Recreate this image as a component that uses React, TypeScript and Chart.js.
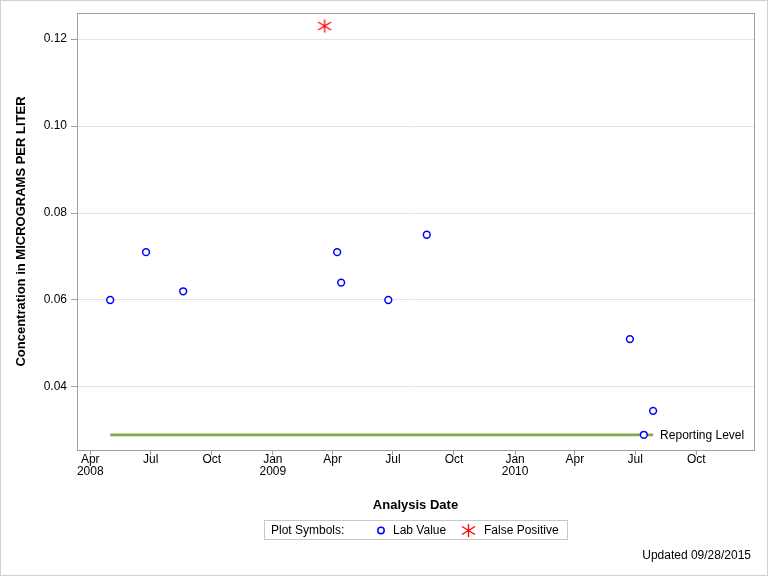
import React, { useEffect, useRef } from "react";
import { Chart, registerables } from "chart.js";

Chart.register(...registerables);

// ---- Data ----
const labDates = [
  "2008-05-01", "2008-06-24", "2008-08-19", "2009-04-08", "2009-04-14",
  "2009-06-24", "2009-08-21", "2010-06-23", "2010-07-14", "2010-07-28",
];
const labValues = [0.06, 0.071, 0.062, 0.071, 0.064, 0.06, 0.075, 0.051, 0.029, 0.0345];
const falsePositiveDates = ["2009-03-20"];
const falsePositiveValues = [0.123];
const reportingLevel = 0.029;
const reportingDates = ["2008-05-01", "2010-07-28"];

const xTickDates = [
  "2008-04-01", "2008-07-01", "2008-10-01", "2009-01-01", "2009-04-01", "2009-07-01",
  "2009-10-01", "2010-01-01", "2010-04-01", "2010-07-01", "2010-10-01",
];
const xTickLabels = [
  ["Apr", "2008"], ["Jul"], ["Oct"], ["Jan", "2009"], ["Apr"], ["Jul"],
  ["Oct"], ["Jan", "2010"], ["Apr"], ["Jul"], ["Oct"],
];
const xRange = ["2008-03-12", "2010-12-27"];
const yTicks = [0.04, 0.06, 0.08, 0.1, 0.12];
const yRange = [0.0255, 0.126];

const FONT = "'Liberation Sans', Arial, sans-serif";

const dayNum = (s: string) => {
  const [y, m, d] = s.split("-").map(Number);
  return Date.UTC(y, m - 1, d) / 86400000;
};

function drawStar(ctx: CanvasRenderingContext2D, cx: number, cy: number) {
  ctx.save();
  ctx.strokeStyle = "#ff0000";
  ctx.lineWidth = 1.3;
  ctx.beginPath();
  ctx.moveTo(cx, cy - 6.5);
  ctx.lineTo(cx, cy + 6.5);
  ctx.moveTo(cx - 6.5, cy - 4);
  ctx.lineTo(cx + 6.5, cy + 4);
  ctx.moveTo(cx - 6.5, cy + 4);
  ctx.lineTo(cx + 6.5, cy - 4);
  ctx.stroke();
  ctx.restore();
}

function makeStarCanvas() {
  const c = document.createElement("canvas");
  c.width = 16;
  c.height = 16;
  const ctx = c.getContext("2d")!;
  drawStar(ctx, 8, 8);
  return c;
}

export default function App() {
  const ref = useRef<HTMLCanvasElement>(null);

  useEffect(() => {
    document.body.style.margin = "0";
    const canvas = ref.current!;
    const star = makeStarCanvas();

    const decor = {
      id: "decor",
      beforeDraw(chart: any) {
        const ctx = chart.ctx;
        ctx.save();
        ctx.fillStyle = "#ffffff";
        ctx.fillRect(0, 0, chart.width, chart.height);
        ctx.restore();
      },
      afterDraw(chart: any) {
        const ctx: CanvasRenderingContext2D = chart.ctx;
        const a = chart.chartArea;
        const xs = chart.scales.x;
        const ys = chart.scales.y;
        ctx.save();
        // plot frame
        ctx.strokeStyle = "#a0a0a0";
        ctx.lineWidth = 1;
        ctx.strokeRect(Math.round(a.left) + 0.5, Math.round(a.top) + 0.5,
          Math.round(a.right - a.left), Math.round(a.bottom - a.top));
        // outer border
        ctx.strokeStyle = "#d0d0d0";
        ctx.strokeRect(0.5, 0.5, chart.width - 1, chart.height - 1);

        ctx.fillStyle = "#000";
        ctx.textBaseline = "middle";
        // reporting level label
        ctx.font = `12px ${FONT}`;
        ctx.textAlign = "left";
        const rx = xs.getPixelForValue(dayNum(reportingDates[1]));
        const ry = ys.getPixelForValue(reportingLevel);
        ctx.fillText("Reporting Level", rx + 7, ry + 1);

        // x title
        ctx.font = `bold 13px ${FONT}`;
        ctx.textAlign = "center";
        ctx.fillText("Analysis Date", (a.left + a.right) / 2, 505);

        // y title
        ctx.save();
        ctx.translate(21, (a.top + a.bottom) / 2);
        ctx.rotate(-Math.PI / 2);
        ctx.fillText("Concentration in MICROGRAMS PER LITER", 0, 0);
        ctx.restore();

        // legend
        ctx.strokeStyle = "#c8c8c8";
        ctx.strokeRect(264.5, 520.5, 303, 19);
        ctx.font = `12px ${FONT}`;
        ctx.textAlign = "left";
        ctx.fillText("Plot Symbols:", 271, 531);
        ctx.beginPath();
        ctx.arc(381, 530.5, 3.2, 0, Math.PI * 2);
        ctx.strokeStyle = "#0000ff";
        ctx.lineWidth = 1.5;
        ctx.stroke();
        ctx.fillText("Lab Value", 393, 531);
        drawStar(ctx, 468.5, 530.5);
        ctx.fillText("False Positive", 484, 531);

        // footnote
        ctx.textAlign = "right";
        ctx.fillText("Updated 09/28/2015", 751, 556);
        ctx.restore();
      },
    };

    const chart = new Chart(canvas, {
      type: "scatter",
      data: {
        datasets: [
          {
            label: "False Positive",
            data: falsePositiveDates.map((d, i) => ({ x: dayNum(d), y: falsePositiveValues[i] })),
            pointStyle: star as any,
            pointRadius: 7,
            showLine: false,
          },
          {
            label: "Lab Value",
            data: labDates.map((d, i) => ({ x: dayNum(d), y: labValues[i] })),
            pointStyle: "circle",
            pointRadius: 3.4,
            borderColor: "#0000ff",
            backgroundColor: "#ffffff",
            pointBorderWidth: 1.5,
            showLine: false,
          },
          {
            label: "Reporting Level",
            type: "line" as any,
            data: reportingDates.map((d) => ({ x: dayNum(d), y: reportingLevel })),
            borderColor: "#86a84a",
            borderWidth: 2.8,
            pointRadius: 0,
            showLine: true,
          },
        ],
      },
      options: {
        responsive: false,
        animation: false,
        layout: { padding: { left: 0, top: 13, right: 14, bottom: 0 } },
        plugins: { legend: { display: false }, tooltip: { enabled: false } },
        scales: {
          x: {
            type: "linear",
            min: dayNum(xRange[0]),
            max: dayNum(xRange[1]),
            afterFit: (s: any) => { s.height = 126; },
            afterBuildTicks: (s: any) => { s.ticks = xTickDates.map((d) => ({ value: dayNum(d) })); },
            ticks: {
              autoSkip: false,
              maxRotation: 0,
              padding: -2,
              color: "#000",
              font: { family: FONT, size: 12, lineHeight: 1.05 },
              callback: (_v: any, i: number) => xTickLabels[i],
            },
            grid: { drawOnChartArea: false, tickLength: 5, tickColor: "#a0a0a0" },
            border: { display: false },
          },
          y: {
            type: "linear",
            min: yRange[0],
            max: yRange[1],
            afterFit: (s: any) => { s.width = 77; },
            afterBuildTicks: (s: any) => { s.ticks = yTicks.map((v) => ({ value: v })); },
            ticks: {
              padding: 4,
              color: "#000",
              font: { family: FONT, size: 12 },
              callback: (v: any) => Number(v).toFixed(2),
            },
            grid: { color: "#e4e4e4", tickLength: 6, tickColor: "#a0a0a0" },
            border: { display: false },
          },
        },
      },
      plugins: [decor],
    } as any);

    return () => chart.destroy();
  }, []);

  return (
    <div style={{ position: "absolute", left: 0, top: 0, width: 768, height: 576 }}>
      <canvas ref={ref} width={768} height={576} style={{ width: 768, height: 576 }} />
    </div>
  );
}
